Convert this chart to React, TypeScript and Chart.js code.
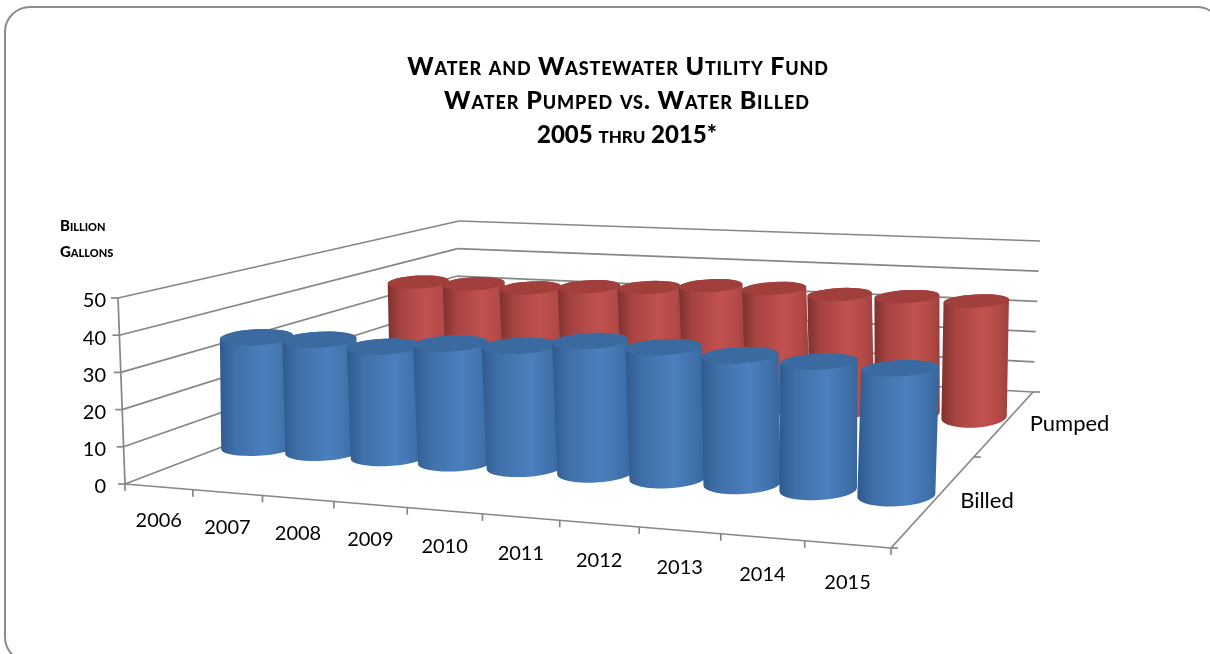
import React, { useEffect, useRef } from "react";
import { Chart, registerables } from "chart.js";

Chart.register(...registerables);

const years = ["2006", "2007", "2008", "2009", "2010", "2011", "2012", "2013", "2014", "2015"];
const depthLabels = ["Billed", "Pumped"];
const billed = [32, 32.4, 31.5, 33.5, 34, 36.5, 36, 35, 34.5, 34];
const pumped = [34.8, 35.1, 34.6, 35.9, 36.5, 38, 38, 37, 37.3, 36.9];
const titleLines = ["Water and Wastewater Utility Fund", "Water Pumped vs. Water Billed", "2005 thru 2015*"];
const axisTitleLines = ["Billion", "Gallons"];

// Camera: where the corners of the plot box land on screen (front-left, front-right, back-right, back-left)
const floorQuad = [[125, 484], [891, 548], [1033, 392], [452, 359]];
const topQuad = [[118, 298], [898, 345], [1040, 241], [459, 221]];

const GRID = "#868686";
const FONT = "Lato, 'Open Sans', sans-serif";
const tilt = -0.05;
const rowSpan = [750, 680];
const floorNudge = [0, 0.02];

type Quad = number[][];
function homography(q: Quad) {
  const [[x0, y0], [x1, y1], [x2, y2], [x3, y3]] = q;
  const dx1 = x1 - x2, dx2 = x3 - x2, sx = x0 - x1 + x2 - x3;
  const dy1 = y1 - y2, dy2 = y3 - y2, sy = y0 - y1 + y2 - y3;
  const den = dx1 * dy2 - dx2 * dy1;
  const g = (sx * dy2 - dx2 * sy) / den;
  const h = (dx1 * sy - sx * dy1) / den;
  const a = x1 - x0 + g * x1, b = x3 - x0 + h * x3, c = x0;
  const d = y1 - y0 + g * y1, e = y3 - y0 + h * y3, f = y0;
  return (u: number, v: number) => {
    const w = g * u + h * v + 1;
    return [(a * u + b * v + c) / w, (d * u + e * v + f) / w];
  };
}
const floorH = homography(floorQuad);
const topH = homography(topQuad);
function project(u: number, v: number, t: number) {
  const p = floorH(u, v);
  const q = topH(u, v);
  return [p[0] + (q[0] - p[0]) * t, p[1] + (q[1] - p[1]) * t];
}

function line(ctx: CanvasRenderingContext2D, a: number[], b: number[]) {
  ctx.beginPath();
  ctx.moveTo(a[0], a[1]);
  ctx.lineTo(b[0], b[1]);
  ctx.stroke();
}

function shade(ctx: CanvasRenderingContext2D, left: number, right: number, stops: string[]) {
  const g = ctx.createLinearGradient(left, 0, right, 0);
  g.addColorStop(0, stops[0]);
  g.addColorStop(0.2, stops[1]);
  g.addColorStop(0.6, stops[2]);
  g.addColorStop(0.85, stops[3]);
  g.addColorStop(1, stops[4]);
  return g;
}

const blueStops = ["#2f5a8e", "#3f6fa8", "#4b7fbe", "#4172ac", "#37659c"];
const redStops = ["#7d312f", "#a54341", "#c2514e", "#b34a47", "#9c3f3d"];
const blueTop = "#3a6a9f";
const redTop = "#a13f3c";

const plot3d = {
  id: "plot3d",
  beforeDatasetDraw() {
    return false;
  },
  beforeDraw(chart: any) {
    const ctx = chart.ctx as CanvasRenderingContext2D;
    ctx.save();
    ctx.strokeStyle = "#8c8c8c";
    ctx.lineWidth = 2;
    ctx.beginPath();
    ctx.roundRect(5, 7, 1217, 655, 25);
    ctx.stroke();
    ctx.restore();
  },
  afterDatasetsDraw(chart: any) {
    const ctx = chart.ctx as CanvasRenderingContext2D;
    const xs = chart.scales.x;
    const ys = chart.scales.y;
    const ds = chart.scales.depth;
    const nu = (px: number) => (px - xs.left) / xs.width;
    const nd = (px: number) => (px - ds.left) / ds.width;
    const nt = (px: number) => (ys.bottom - px) / ys.height;

    ctx.save();
    ctx.strokeStyle = GRID;
    ctx.lineWidth = 1.7;
    // walls
    ys.ticks.forEach((tick: any) => {
      const t = nt(ys.getPixelForValue(tick.value));
      const fl = project(0, 0, t), bl = project(0, 1, t), br = project(1, 1, t);
      line(ctx, [fl[0] - 7, fl[1]], fl);
      line(ctx, fl, bl);
      line(ctx, bl, br);
    });
    line(ctx, project(0, 0, 0), project(0, 0, 1));
    // floor edges
    line(ctx, project(0, 0, 0), project(1, 0, 0));
    line(ctx, project(1, 0, 0), project(1, 1, 0));
    // year ticks
    for (let i = 0; i <= years.length; i++) {
      const p = project(i / years.length, 0, 0);
      line(ctx, p, [p[0], p[1] + 7]);
    }
    for (let i = 0; i <= depthLabels.length; i++) {
      const p = project(1, i / depthLabels.length, 0);
      line(ctx, p, [p[0] + 7, p[1]]);
    }

    // cylinders, back row first
    for (let di = chart.data.datasets.length - 1; di >= 0; di--) {
      const meta = chart.getDatasetMeta(di);
      const isBilled = di === 0;
      const vc = nd(ds.getPixelForValue(di));
      const stops = isBilled ? blueStops : redStops;
      const topColor = isBilled ? blueTop : redTop;
      meta.data.forEach((bar: any) => {
        const uc = nu(bar.x);
        const ur = bar.width / xs.width / 2;
        const t = nt(bar.y);
        const bc = project(uc, vc + floorNudge[di], 0);
        const tc = project(uc, vc, t);
        const w = ur * (rowSpan[di] + 50 * uc);
        const topH2 = isBilled ? 8 : 6.5;
        const botH2 = (isBilled ? 8 : 7.5) + uc * 3;
        // side
        ctx.beginPath();
        ctx.ellipse(bc[0], bc[1], w, botH2, tilt, 0, Math.PI);
        ctx.ellipse(tc[0], tc[1], w, topH2, tilt, Math.PI, Math.PI * 2);
        ctx.closePath();
        ctx.fillStyle = shade(ctx, Math.min(tc[0], bc[0]) - w, Math.max(tc[0], bc[0]) + w, stops);
        ctx.fill();
        // top cap
        ctx.beginPath();
        ctx.ellipse(tc[0], tc[1], w, topH2, tilt, 0, Math.PI * 2);
        ctx.fillStyle = topColor;
        ctx.fill();
      });
    }

    // texts
    ctx.fillStyle = "#000";
    ctx.textBaseline = "alphabetic";
    ctx.textAlign = "center";
    const titleX = [618, 627, 627];
    const titleY = [75, 109, 143];
    const titleSize = [25, 25, 24];
    const titleSpacing = ["0.8px", "0.9px", "0px"];
    titleLines.forEach((s, i) => {
      ctx.font = `small-caps 900 ${titleSize[i]}px ${FONT}`;
      (ctx as any).letterSpacing = titleSpacing[i];
      ctx.fillText(s, titleX[i], titleY[i]);
    });
    (ctx as any).letterSpacing = "0px";
    ctx.textAlign = "left";
    ctx.font = `small-caps 900 15px ${FONT}`;
    axisTitleLines.forEach((s, i) => ctx.fillText(s, 60, 231 + i * 26));

    ctx.font = `20px ${FONT}`;
    ctx.textBaseline = "middle";
    ctx.textAlign = "right";
    ys.ticks.forEach((tick: any) => {
      const t = nt(ys.getPixelForValue(tick.value));
      const p = project(0, 0, t);
      ctx.fillText(String(tick.value), 106, p[1] + 3);
    });
    ctx.textAlign = "center";
    years.forEach((label, i) => {
      const u = nu(xs.getPixelForValue(i));
      const p = project(u, 0, 0);
      ctx.fillText(label, p[0], p[1] + 34 + u * 4);
    });
    ctx.textAlign = "left";
    ctx.font = `22px ${FONT}`;
    depthLabels.forEach((label, i) => {
      const p = project(1, nd(ds.getPixelForValue(i)), 0);
      ctx.fillText(label, p[0] + 24, p[1] + 2 + (i === 0 ? 1 : 0));
    });
    ctx.restore();
  },
};

export default function App() {
  const ref = useRef<HTMLCanvasElement>(null);
  useEffect(() => {
    document.body.style.margin = "0";
    const chart = new Chart(ref.current!, {
      type: "bar",
      data: {
        labels: years,
        datasets: [
          { label: "Billed", data: billed, backgroundColor: "#4F81BD", grouped: false, barPercentage: 0.98, categoryPercentage: 1 },
          { label: "Pumped", data: pumped, backgroundColor: "#C0504D", grouped: false, barPercentage: 0.9, categoryPercentage: 1 },
        ],
      },
      options: {
        responsive: false,
        animation: false,
        layout: { padding: 0 },
        plugins: { legend: { display: false }, tooltip: { enabled: false } },
        scales: {
          x: { type: "category", display: false, stacked: false },
          y: { type: "linear", display: false, min: 0, max: 50, ticks: { stepSize: 10 } },
          depth: { type: "category", axis: "x", position: "top", display: false, labels: depthLabels, offset: true },
        },
      },
      plugins: [plot3d],
    } as any);
    return () => chart.destroy();
  }, []);
  return <canvas ref={ref} width={1210} height={654} style={{ display: "block" }} />;
}
